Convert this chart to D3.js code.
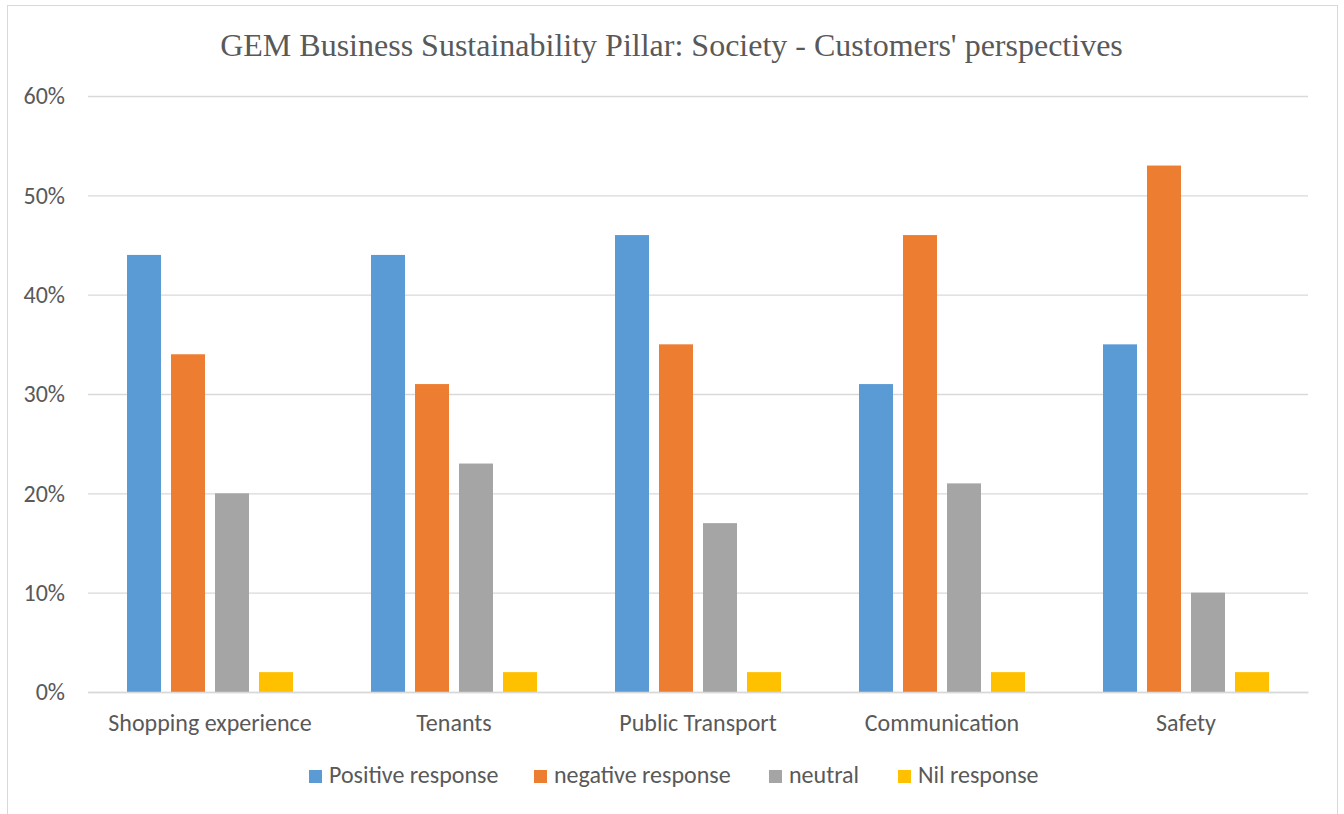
<!DOCTYPE html>
<html><head><meta charset="utf-8">
<script src="https://cdn.jsdelivr.net/npm/d3@7"></script>
<style>body{margin:0;background:#fff}svg{display:block}</style>
</head><body>
<script>
const categories = ["Shopping experience","Tenants","Public Transport","Communication","Safety"];
const seriesNames = ["Positive response","negative response","neutral","Nil response"];
const positive = [44,44,46,31,35];
const negative = [34,31,35,46,53];
const neutral = [20,23,17,21,10];
const nil = [2,2,2,2,2];
const yTicks = [0,10,20,30,40,50,60];
const colors = ["#5b9bd5","#ed7d31","#a5a5a5","#ffc000"];
const seriesValues = [positive,negative,neutral,nil];

const W=1344,H=814;
const svg=d3.select("body").append("svg").attr("width",W).attr("height",H);
svg.append("rect").attr("x",7.5).attr("y",5.5).attr("width",1330).attr("height",820).attr("fill","#fff").attr("stroke","#d9d9d9");

const pL=88,pR=1308,pT=96,pB=692;
const x0=d3.scaleBand().domain(categories).range([pL,pR]);
const x1=d3.scaleBand().domain(seriesNames).range([39,205]).paddingInner(10/44).paddingOuter(0);
const y=d3.scaleLinear().domain([0,60]).range([pB,pT]);
const font="Carlito, Calibri, Lato, sans-serif";

svg.append("text").attr("x",671.5).attr("y",56).attr("text-anchor","middle")
 .attr("font-family","'Liberation Serif','Times New Roman',serif").attr("font-size",32).attr("fill","#595959")
 .text("GEM Business Sustainability Pillar: Society - Customers' perspectives");

const yAxis=d3.axisLeft(y).tickValues(yTicks).tickFormat(d=>d+"%").tickSize(-(pR-pL)).tickPadding(23);
const gy=svg.append("g").attr("transform",`translate(${pL},0)`).call(yAxis);
gy.select(".domain").remove();
gy.selectAll(".tick line").attr("stroke","#d9d9d9").attr("stroke-width",1.3);
gy.selectAll(".tick text").attr("font-family",font).attr("font-size",24).attr("fill","#595959");

const groups=svg.append("g").selectAll("g").data(categories).join("g")
 .attr("transform",d=>`translate(${x0(d)},0)`);
groups.selectAll("rect").data((c,i)=>seriesNames.map((s,j)=>({s,v:seriesValues[j][i],c:colors[j]})))
 .join("rect").attr("x",d=>x1(d.s)).attr("width",x1.bandwidth())
 .attr("y",d=>y(d.v)).attr("height",d=>y(0)-y(d.v)).attr("fill",d=>d.c);

const xAxis=d3.axisBottom(x0).tickSize(0).tickPadding(22);
const gx=svg.append("g").attr("transform",`translate(0,${pB})`).call(xAxis);
gx.select(".domain").attr("stroke","#d9d9d9").attr("stroke-width",1.3);
gx.selectAll(".tick text").attr("font-family",font).attr("font-size",24).attr("fill","#595959");

const legX=[309,534,769,898];
const leg=svg.append("g").selectAll("g").data(seriesNames).join("g")
 .attr("transform",(d,i)=>`translate(${legX[i]},770)`);
leg.append("rect").attr("width",13).attr("height",13).attr("fill",(d,i)=>colors[i]);
leg.append("text").attr("x",20).attr("y",13).attr("font-family",font).attr("font-size",24).attr("fill","#595959").text(d=>d);
</script>
</body></html>
